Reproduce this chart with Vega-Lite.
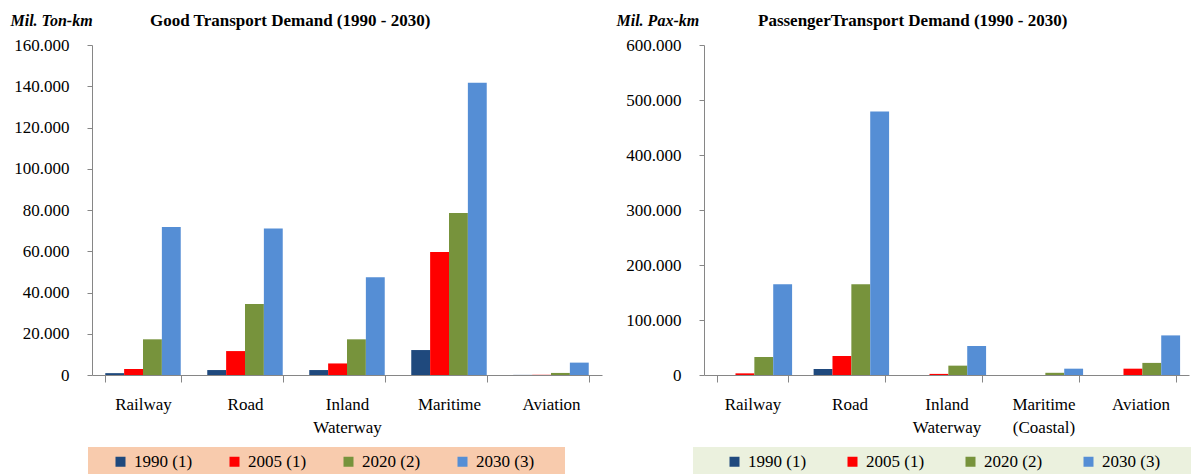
{
  "$schema": "https://vega.github.io/schema/vega-lite/v6.json",
  "background": "white",
  "padding": {"left": 10, "top": 12, "right": 0, "bottom": 0},
  "config": {
    "font": "Liberation Serif",
    "view": {"stroke": null},
    "concat": {"spacing": 14},
    "style": {"guide-label": {"font": "Liberation Serif"}, "guide-title": {"font": "Liberation Serif"}},
    "axis": {"domainColor": "#868686", "tickColor": "#868686", "labelColor": "black", "labelFont": "Liberation Serif", "labelFontSize": 17, "grid": false},
    "legend": {"labelFont": "Liberation Serif", "titleFont": "Liberation Serif", "labelFontSize": 17, "labelColor": "black"}
  },
  "datasets": {
    "goods": [
      {"mode": "Railway", "year": "1990 (1)", "value": 900},
      {"mode": "Railway", "year": "2005 (1)", "value": 2900},
      {"mode": "Railway", "year": "2020 (2)", "value": 17300},
      {"mode": "Railway", "year": "2030 (3)", "value": 71800},
      {"mode": "Road", "year": "1990 (1)", "value": 2400},
      {"mode": "Road", "year": "2005 (1)", "value": 11600},
      {"mode": "Road", "year": "2020 (2)", "value": 34400},
      {"mode": "Road", "year": "2030 (3)", "value": 71000},
      {"mode": "Inland Waterway", "year": "1990 (1)", "value": 2400},
      {"mode": "Inland Waterway", "year": "2005 (1)", "value": 5600},
      {"mode": "Inland Waterway", "year": "2020 (2)", "value": 17300},
      {"mode": "Inland Waterway", "year": "2030 (3)", "value": 47400},
      {"mode": "Maritime", "year": "1990 (1)", "value": 12100},
      {"mode": "Maritime", "year": "2005 (1)", "value": 59600},
      {"mode": "Maritime", "year": "2020 (2)", "value": 78500},
      {"mode": "Maritime", "year": "2030 (3)", "value": 141700},
      {"mode": "Aviation", "year": "1990 (1)", "value": 50},
      {"mode": "Aviation", "year": "2005 (1)", "value": 100},
      {"mode": "Aviation", "year": "2020 (2)", "value": 1000},
      {"mode": "Aviation", "year": "2030 (3)", "value": 6000}
    ],
    "passenger": [
      {"mode": "Railway", "year": "1990 (1)", "value": 0},
      {"mode": "Railway", "year": "2005 (1)", "value": 3000},
      {"mode": "Railway", "year": "2020 (2)", "value": 32700},
      {"mode": "Railway", "year": "2030 (3)", "value": 165000},
      {"mode": "Road", "year": "1990 (1)", "value": 11000},
      {"mode": "Road", "year": "2005 (1)", "value": 34500},
      {"mode": "Road", "year": "2020 (2)", "value": 165000},
      {"mode": "Road", "year": "2030 (3)", "value": 479000},
      {"mode": "Inland Waterway", "year": "1990 (1)", "value": 0},
      {"mode": "Inland Waterway", "year": "2005 (1)", "value": 2000},
      {"mode": "Inland Waterway", "year": "2020 (2)", "value": 17000},
      {"mode": "Inland Waterway", "year": "2030 (3)", "value": 52700},
      {"mode": "Maritime (Coastal)", "year": "1990 (1)", "value": 0},
      {"mode": "Maritime (Coastal)", "year": "2005 (1)", "value": 0},
      {"mode": "Maritime (Coastal)", "year": "2020 (2)", "value": 4000},
      {"mode": "Maritime (Coastal)", "year": "2030 (3)", "value": 11500},
      {"mode": "Aviation", "year": "1990 (1)", "value": 0},
      {"mode": "Aviation", "year": "2005 (1)", "value": 11500},
      {"mode": "Aviation", "year": "2020 (2)", "value": 22000},
      {"mode": "Aviation", "year": "2030 (3)", "value": 72000}
    ]
  },
  "resolve": {"legend": {"color": "independent"}, "scale": {"color": "independent"}},
  "hconcat": [
    {
      "data": {"name": "goods"},
      "width": 510,
      "height": 330,
      "title": {"text": "Good Transport Demand (1990 - 2030)", "anchor": "start", "frame": "group", "dx": 58, "offset": -18, "fontSize": 17, "fontWeight": "bold", "font": "Liberation Serif", "color": "black"},
      "mark": {"type": "bar"},
      "encoding": {
        "x": {
          "field": "mode", "type": "nominal",
          "sort": ["Railway", "Road", "Inland Waterway", "Maritime", "Aviation"],
          "scale": {"paddingInner": 0.26, "paddingOuter": 0.13},
          "axis": {"title": null, "labelAngle": 0, "tickBand": "extent", "tickSize": 7, "labelPadding": 14, "labelLineHeight": 23, "labelExpr": "split(datum.label, ' ')"}
        },
        "xOffset": {"field": "year", "type": "nominal", "scale": {"paddingInner": 0, "paddingOuter": 0}},
        "y": {
          "field": "value", "type": "quantitative",
          "scale": {"domain": [0, 160000], "nice": false},
          "axis": {
            "values": [0, 20000, 40000, 60000, 80000, 100000, 120000, 140000, 160000],
            "labelExpr": "replace(format(datum.value, ','), regexp(',', 'g'), '.')",
            "tickSize": 5, "labelPadding": 18,
            "title": "Mil.  Ton-km", "titleAngle": 0, "titleAlign": "left", "titleBaseline": "alphabetic",
            "titleX": -82, "titleY": -20, "titleFont": "Liberation Serif", "titleFontSize": 16,
            "titleFontStyle": "italic", "titleFontWeight": "bold", "titleColor": "black"
          }
        },
        "color": {
          "field": "year", "type": "nominal",
          "scale": {"domain": ["1990 (1)", "2005 (1)", "2020 (2)", "2030 (3)"], "range": ["#1F497D", "#FF0000", "#77933C", "#558ED5"]},
          "legend": {
            "orient": "none", "legendX": -4, "legendY": 402, "direction": "horizontal",
            "title": "\u00a0", "titleOrient": "left", "titlePadding": 18, "titleFontSize": 10,
            "fillColor": "#F8CBAD", "padding": 6, "columnPadding": 33,
            "symbolType": "square", "symbolSize": 100, "symbolStrokeWidth": 0, "labelOffset": 5,
            "labelFont": "Liberation Serif", "labelFontSize": 17, "labelColor": "black",
            "labelExpr": "datum.value == '2030 (3)' ? datum.label + '\u2800\u2800' : datum.label"
          }
        }
      }
    },
    {
      "data": {"name": "passenger"},
      "width": 485,
      "height": 330,
      "title": {"text": "PassengerTransport Demand (1990 - 2030)", "anchor": "start", "frame": "group", "dx": 54, "offset": -18, "fontSize": 17, "fontWeight": "bold", "font": "Liberation Serif", "color": "black"},
      "mark": {"type": "bar"},
      "encoding": {
        "x": {
          "field": "mode", "type": "nominal",
          "sort": ["Railway", "Road", "Inland Waterway", "Maritime (Coastal)", "Aviation"],
          "scale": {"paddingInner": 0.26, "paddingOuter": 0.13},
          "axis": {"title": null, "labelAngle": 0, "tickBand": "extent", "tickSize": 7, "labelPadding": 14, "labelLineHeight": 23, "labelExpr": "split(datum.label, ' ')"}
        },
        "xOffset": {"field": "year", "type": "nominal", "scale": {"paddingInner": 0, "paddingOuter": 0}},
        "y": {
          "field": "value", "type": "quantitative",
          "scale": {"domain": [0, 600000], "nice": false},
          "axis": {
            "values": [0, 100000, 200000, 300000, 400000, 500000, 600000],
            "labelExpr": "replace(format(datum.value, ','), regexp(',', 'g'), '.')",
            "tickSize": 5, "labelPadding": 18,
            "title": "Mil.  Pax-km", "titleAngle": 0, "titleAlign": "left", "titleBaseline": "alphabetic",
            "titleX": -88, "titleY": -20, "titleFont": "Liberation Serif", "titleFontSize": 16,
            "titleFontStyle": "italic", "titleFontWeight": "bold", "titleColor": "black"
          }
        },
        "color": {
          "field": "year", "type": "nominal",
          "scale": {"domain": ["1990 (1)", "2005 (1)", "2020 (2)", "2030 (3)"], "range": ["#1F497D", "#FF0000", "#77933C", "#558ED5"]},
          "legend": {
            "orient": "none", "legendX": -11, "legendY": 402, "direction": "horizontal",
            "title": "\u00a0", "titleOrient": "left", "titlePadding": 27, "titleFontSize": 10,
            "fillColor": "#EBF1DE", "padding": 6, "columnPadding": 37,
            "symbolType": "square", "symbolSize": 100, "symbolStrokeWidth": 0, "labelOffset": 5,
            "labelFont": "Liberation Serif", "labelFontSize": 17, "labelColor": "black",
            "labelExpr": "datum.value == '2030 (3)' ? datum.label + '\u2800\u2800' : datum.label"
          }
        }
      }
    }
  ]
}
